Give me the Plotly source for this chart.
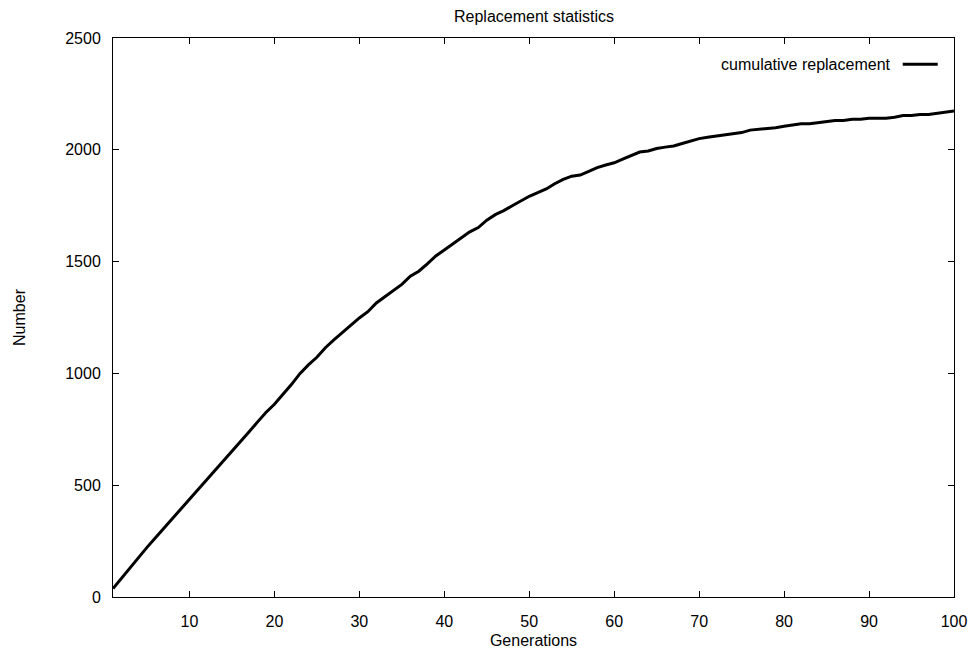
import plotly.graph_objects as go

generations = list(range(1, 101))
cumulative_replacement = [
    38, 85, 128, 175, 222, 265, 308, 350, 390, 432,
    475, 520, 563, 607, 650, 692, 738, 782, 825, 862,
    905, 950, 999, 1038, 1072, 1115, 1150, 1183, 1215, 1248,
    1276, 1315, 1343, 1370, 1398, 1435, 1457, 1490, 1525, 1552,
    1580, 1607, 1633, 1652, 1685, 1710, 1728, 1750, 1772, 1792,
    1808, 1825, 1848, 1868, 1882, 1887, 1903, 1920, 1932, 1942,
    1958, 1975, 1990, 1995, 2006, 2012, 2017, 2028, 2040, 2050,
    2056, 2061, 2066, 2071, 2077, 2088, 2092, 2093, 2099, 2105,
    2110, 2116, 2116, 2121, 2127, 2131, 2131, 2137, 2137, 2141,
    2141, 2141, 2146, 2153, 2153, 2158, 2158, 2164, 2168, 2174,
]
x_ticks = [10, 20, 30, 40, 50, 60, 70, 80, 90, 100]
y_ticks = [0, 500, 1000, 1500, 2000, 2500]
title_text = "Replacement statistics"
x_title = "Generations"
y_title = "Number"
series_name = "cumulative replacement"

FONT = "Liberation Sans, Arial, sans-serif"
FS = 16

# the page body has an 8px margin: the figure starts at (8, 8)
OFF = 8
W, H = 962, 641
L = 112.5 - OFF
T = 37.7 - OFF
R = W - (954.3 - OFF)
B = H - (596.7 - OFF)
pw, ph = W - L - R, H - T - B


def px(xp):
    return (xp - OFF - L) / pw


def py(yp):
    return (H - B - (yp - OFF)) / ph


fig = go.Figure()
fig.add_trace(go.Scatter(
    x=generations, y=cumulative_replacement, mode="lines",
    line=dict(color="black", width=3), name=series_name, showlegend=False,
))

axis_common = dict(
    showline=True, linecolor="black", linewidth=1, mirror="ticks",
    ticks="inside", ticklen=6, tickwidth=1, tickcolor="black",
    showgrid=False, zeroline=False,
    tickfont=dict(family=FONT, size=FS, color="black"),
)
fig.update_xaxes(range=[1, 100], tickvals=x_ticks, ticktext=[str(t) for t in x_ticks],
                 ticklabelstandoff=10,
                 title=dict(text=x_title, font=dict(family=FONT, size=FS, color="black"), standoff=9),
                 **axis_common)
fig.update_yaxes(range=[0, 2500], tickvals=y_ticks, ticktext=[str(t) for t in y_ticks],
                 ticklabelstandoff=8,
                 title=dict(text=y_title, font=dict(family=FONT, size=FS, color="black"), standoff=35),
                 **axis_common)

# legend (gnuplot style: text then sample line)
fig.add_annotation(x=px(893), y=py(64), xref="paper", yref="paper", text=series_name,
                   showarrow=False, xanchor="right", yanchor="middle",
                   font=dict(family=FONT, size=FS, color="black"))
fig.add_shape(type="line", xref="paper", yref="paper",
              x0=px(903), x1=px(938), y0=py(64), y1=py(64),
              line=dict(color="black", width=3))

fig.update_layout(
    width=W, height=H,
    margin=dict(l=L, r=R, t=T, b=B, autoexpand=False),
    paper_bgcolor="white", plot_bgcolor="white",
    title=dict(text=title_text, x=(534 - OFF) / W, xanchor="center",
               y=1 - (16.5 - OFF) / H, yanchor="middle",
               font=dict(family=FONT, size=FS, color="black")),
    showlegend=False,
)

fig.write_html("out.html")
